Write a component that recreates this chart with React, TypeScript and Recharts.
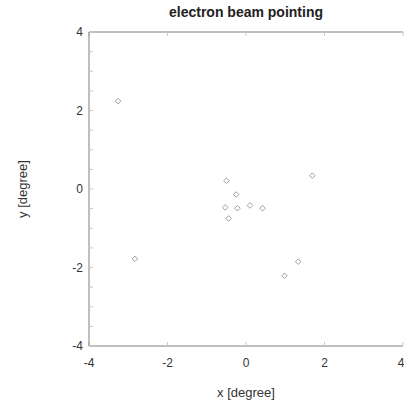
import React from 'react';
import { ScatterChart, Scatter, XAxis, YAxis } from 'recharts';

const xValues = [-3.26, -2.83, -0.5, -0.25, -0.53, -0.22, 0.1, 0.42, -0.44, 1.69, 1.33, 0.98];
const yValues = [2.24, -1.78, 0.21, -0.14, -0.47, -0.49, -0.42, -0.49, -0.75, 0.34, -1.85, -2.21];
const xTicks = [-4, -2, 0, 2, 4];
const yTicks = [-4, -3.5, -3, -2.5, -2, -1.5, -1, -0.5, 0, 0.5, 1, 1.5, 2, 2.5, 3, 3.5, 4];
const yLabelTicks = [-4, -2, 0, 2, 4];
const title = 'electron beam pointing';
const xLabel = 'x [degree]';
const yLabel = 'y [degree]';

const data = xValues.map((x, i) => ({ x, y: yValues[i] }));

const FONT = '"Liberation Sans", Arial, Helvetica, sans-serif';

const Diamond = (props: any) => {
  const { cx, cy } = props;
  if (cx == null || cy == null) return null;
  const r = 2.8;
  return (
    <path
      d={`M${cx},${cy - r}L${cx + r},${cy}L${cx},${cy + r}L${cx - r},${cy}Z`}
      fill="#fff"
      stroke="#a0a0a0"
      strokeWidth={1}
    />
  );
};

const yFmt = (v: number) => (yLabelTicks.includes(v) ? String(v) : '');
const empty = () => '';

export default function App() {
  return (
    <div style={{ position: 'absolute', left: 0, top: 0, width: 404, height: 407, background: '#fff' }}>
      <ScatterChart width={404} height={407} margin={{ top: 0, right: 1, bottom: 0, left: 0 }}>
        <XAxis
          xAxisId="top"
          orientation="top"
          type="number"
          dataKey="x"
          domain={[-4, 4]}
          ticks={xTicks}
          height={32}
          tickSize={-4}
          tickFormatter={empty}
          axisLine={{ stroke: '#808080' }}
          tickLine={{ stroke: '#c8c8c8' }}
          allowDataOverflow
          label={{
            content: (p: any) => {
              const vb = p.viewBox || {};
              return (
                <text
                  x={vb.x + vb.width / 2}
                  y={17}
                  textAnchor="middle"
                  fontFamily={FONT}
                  fontWeight="bold"
                  fontSize={14}
                  fill="#222"
                >
                  {title}
                </text>
              );
            },
          }}
        />
        <XAxis
          xAxisId="bottom"
          orientation="bottom"
          type="number"
          dataKey="x"
          domain={[-4, 4]}
          ticks={xTicks}
          height={61}
          tickSize={-4}
          tickMargin={16}
          axisLine={{ stroke: '#808080' }}
          tickLine={{ stroke: '#c8c8c8' }}
          tick={{ fontFamily: FONT, fontSize: 12, fill: '#333' }}
          allowDataOverflow
          label={{
            content: (p: any) => {
              const vb = p.viewBox || {};
              return (
                <text
                  x={vb.x + vb.width / 2}
                  y={vb.y + 51}
                  textAnchor="middle"
                  fontFamily={FONT}
                  fontSize={13}
                  fill="#333"
                >
                  {xLabel}
                </text>
              );
            },
          }}
        />
        <YAxis
          yAxisId="left"
          orientation="left"
          type="number"
          dataKey="y"
          domain={[-4, 4]}
          ticks={yTicks}
          width={89}
          tickSize={-4}
          tickMargin={10}
          tickFormatter={yFmt}
          axisLine={{ stroke: '#808080' }}
          tickLine={{ stroke: '#c8c8c8' }}
          tick={{ fontFamily: FONT, fontSize: 12, fill: '#333' }}
          interval={0}
          allowDataOverflow
          label={{
            content: (p: any) => {
              const vb = p.viewBox || {};
              const cx = 22;
              const cy = vb.y + vb.height / 2;
              return (
                <text
                  x={cx}
                  y={cy}
                  transform={`rotate(-90 ${cx} ${cy})`}
                  textAnchor="middle"
                  dominantBaseline="central"
                  fontFamily={FONT}
                  fontSize={13}
                  fill="#333"
                >
                  {yLabel}
                </text>
              );
            },
          }}
        />
        <YAxis
          yAxisId="right"
          orientation="right"
          type="number"
          dataKey="y"
          domain={[-4, 4]}
          ticks={yTicks}
          width={0}
          tickSize={-4}
          tickFormatter={empty}
          axisLine={{ stroke: '#808080' }}
          tickLine={{ stroke: '#c8c8c8' }}
          interval={0}
          allowDataOverflow
        />
        <Scatter
          data={data}
          xAxisId="bottom"
          yAxisId="left"
          shape={Diamond}
          isAnimationActive={false}
        />
      </ScatterChart>
    </div>
  );
}
